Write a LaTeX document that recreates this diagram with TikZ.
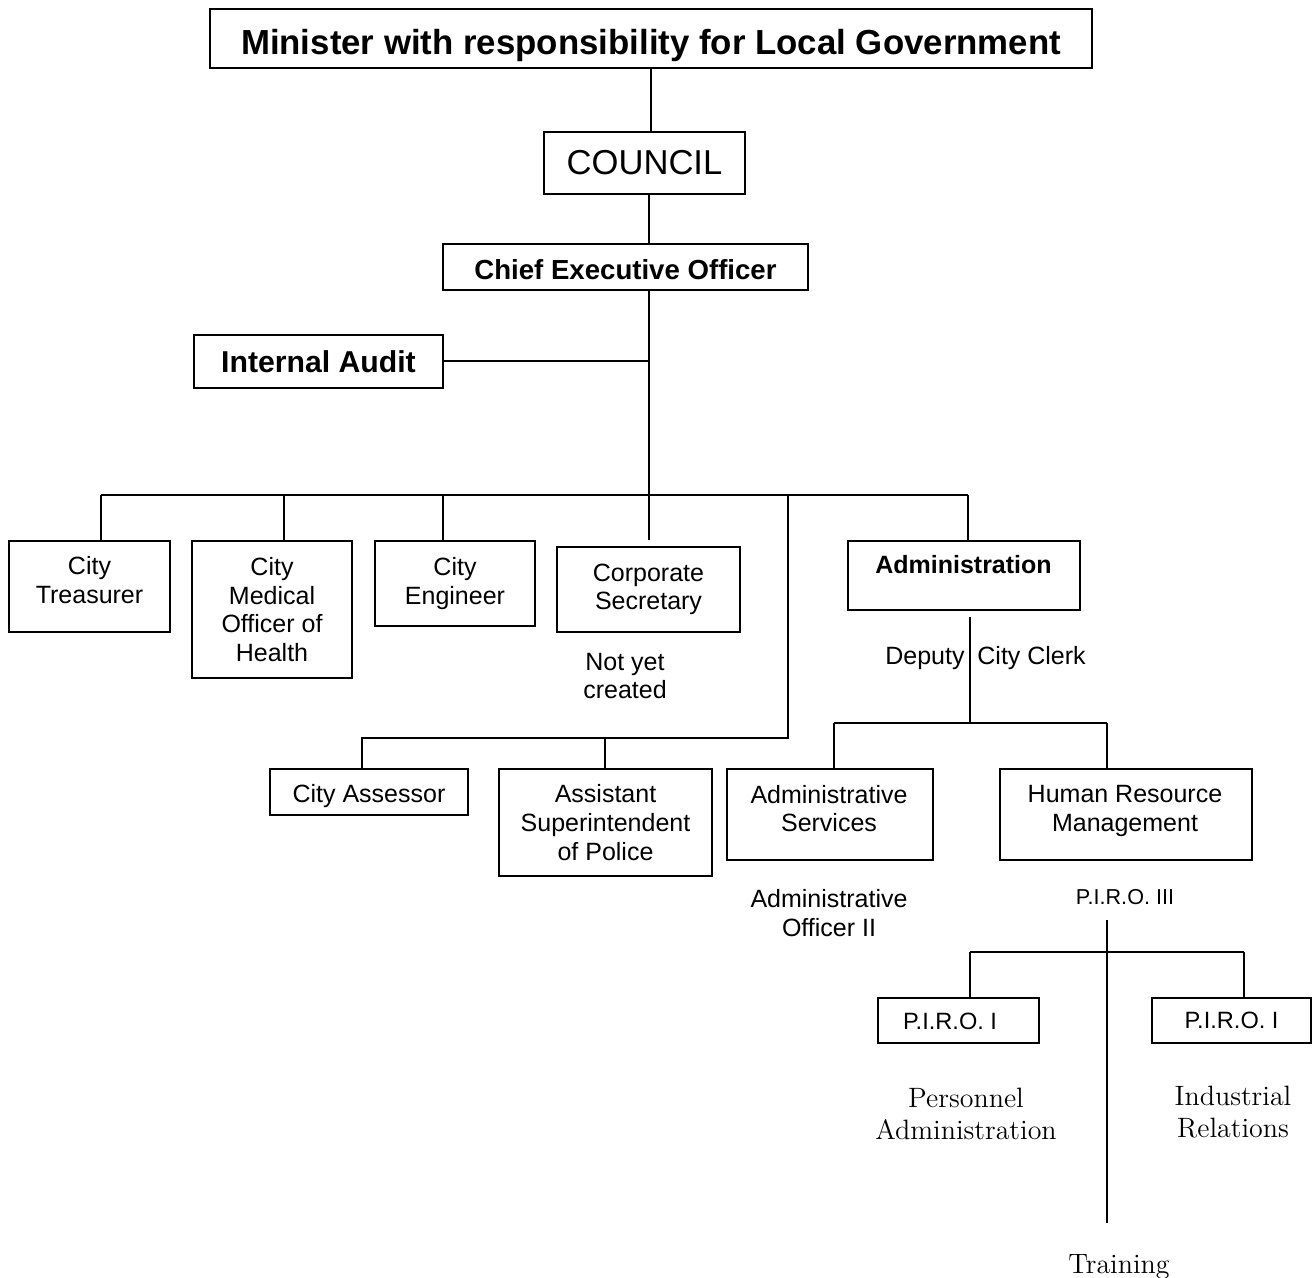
\documentclass[tikz,border=0pt]{standalone}
\usepackage{fontspec}
\newfontfamily\arialf{Liberation Sans}
\newfontfamily\lmserif{Latin Modern Roman}
\begin{document}
\begin{tikzpicture}[x=0.5pt,y=-0.5pt,
  box/.style={draw, line width=1pt, inner sep=0pt, align=center},
  conn/.style={line width=1pt},
  reg/.style={font=\arialf\fontsize{12.5}{14.3}\selectfont, align=center, inner sep=0pt},
  regb/.style={font=\arialf\bfseries\fontsize{12.5}{14.3}\selectfont, align=center, inner sep=0pt},
  serif/.style={font=\lmserif\fontsize{14}{16}\selectfont, align=center, inner sep=0pt},
  piro/.style={font=\arialf\fontsize{11.8}{14}\selectfont}
]
\useasboundingbox (0,0) rectangle (1312,1278);

% top chain
\node[box, minimum width=441pt, minimum height=29.5pt, text height=16.5pt, text depth=0pt, font=\arialf\bfseries\fontsize{17.4}{20}\selectfont] (min) at (651,38.5) {Minister with responsibility for Local Government};
\node[box, minimum width=100.5pt, minimum height=31pt, font=\arialf\fontsize{17.3}{20}\selectfont] (council) at (644.5,163) {COUNCIL};
\node[box, minimum width=182.5pt, minimum height=23pt, text height=12.9pt, text depth=0pt, font=\arialf\bfseries\fontsize{13.8}{16}\selectfont] (ceo) at (625.5,267) {Chief Executive Officer};
\node[box, minimum width=124.5pt, minimum height=26.5pt, font=\arialf\bfseries\fontsize{15.1}{18}\selectfont] (audit) at (318.5,361.5) {Internal Audit};

% first row boxes
\node[box, minimum width=80.5pt, minimum height=45.5pt] (treas) at (89.5,586.5) {};
\node[reg] (treast) at (89.5,580) {City\\Treasurer};
\node[box, reg, minimum width=80pt, minimum height=68.5pt] (med) at (272,609.5) {City\\Medical\\Officer of\\Health};
\node[box, reg, minimum width=80pt, minimum height=42.5pt] (eng) at (455,583.5) {City\\Engineer};
\node[box, reg, minimum width=91.5pt, minimum height=42.5pt] (corp) at (648.5,589.5) {Corporate\\Secretary};
\node[reg] (notyet) at (625,676) {Not yet\\created};
\node[box, minimum width=116pt, minimum height=34.5pt] (admin) at (964,575.5) {};
\node[regb] (admint) at (963.5,565) {Administration};

% second row boxes
\node[box, reg, minimum width=99pt, minimum height=23pt, text height=10pt, text depth=0pt] (assess) at (369,792) {City Assessor};
\node[box, reg, minimum width=106.5pt, minimum height=53.5pt] (supt) at (605.5,822.5) {Assistant\\Superintendent\\of Police};
\node[box, minimum width=103pt, minimum height=45.5pt] (adsv) at (830,814.5) {};
\node[reg] (adsvt) at (829,808.5) {Administrative\\Services};
\node[box, minimum width=126pt, minimum height=45.5pt] (hrm) at (1126,814.5) {};
\node[reg] (hrmt) at (1125,811) {Human Resource\\Management};

% labels under admin
\node[reg, anchor=base east] (deputy) at (965,664) {Deputy};
\node[reg, anchor=base west] (clerk) at (977,664) {City Clerk};
\node[reg] (ao2) at (829,913) {Administrative\\Officer II};
\node[font=\arialf\fontsize{10.8}{13}\selectfont, inner sep=0pt] (piro3) at (1125,897) {P.I.R.O. III};

% PIRO I boxes
\node[box, piro, minimum width=80.5pt, minimum height=22.5pt] (piroa) at (958.5,1020.5) {};
\node[piro, inner sep=0pt] (piroat) at (950,1021) {P.I.R.O. I};
\node[box, piro, minimum width=79.5pt, minimum height=22.5pt] (pirob) at (1231.5,1020.5) {P.I.R.O. I};
\node[serif] (persadm) at (966,1114) {Personnel\\Administration};
\node[serif] (indrel) at (1233,1112) {Industrial\\Relations};
\node[serif, anchor=base] (training) at (1119,1273.5) {Training};

% junction coordinates
\coordinate (bT) at (101,495);
\coordinate (bM) at (284,495);
\coordinate (bE) at (443,495);
\coordinate (bC) at (649,495);
\coordinate (bP) at (788,495);
\coordinate (bA) at (968,495);
\coordinate (lP) at (788,738);
\coordinate (lA) at (362,738);
\coordinate (lS) at (605,738);
\coordinate (dTop) at (970,617);
\coordinate (dJ) at (970,723);
\coordinate (dL) at (834,723);
\coordinate (dR) at (1107,723);
\coordinate (hTop) at (1107,920);
\coordinate (hJ) at (1107,952);
\coordinate (hEnd) at (1107,1223);
\coordinate (hL) at (970,952);
\coordinate (hR) at (1244,952);

% connectors
\draw[conn] (min.south -| 651,0) -- (council.north -| 651,0);
\draw[conn] (council.south -| bC) -- (ceo.north -| bC);
\draw[conn] (ceo.south -| bC) -- (bC);
\draw[conn] (audit.east) -- (audit.east -| bC);
\draw[conn] (bT) -- (bA);
\draw[conn] (bT) -- (treas.north -| bT);
\draw[conn] (bM) -- (med.north -| bM);
\draw[conn] (bE) -- (eng.north -| bE);
\draw[conn, shorten >=3pt] (bC) -- (corp.north -| bC);
\draw[conn] (bA) -- (admin.north -| bA);
\draw[conn] (bP) -- (lP) -- (lA) -- (assess.north -| lA);
\draw[conn] (lS) -- (supt.north -| lS);
\draw[conn] (dTop) -- (dJ);
\draw[conn] (dL) -- (dR);
\draw[conn] (dL) -- (adsv.north -| dL);
\draw[conn] (dR) -- (hrm.north -| dR);
\draw[conn] (hTop) -- (hEnd);
\draw[conn] (hL) -- (hR);
\draw[conn] (hL) -- (piroa.north -| hL);
\draw[conn] (hR) -- (pirob.north -| hR);
\end{tikzpicture}
\end{document}
